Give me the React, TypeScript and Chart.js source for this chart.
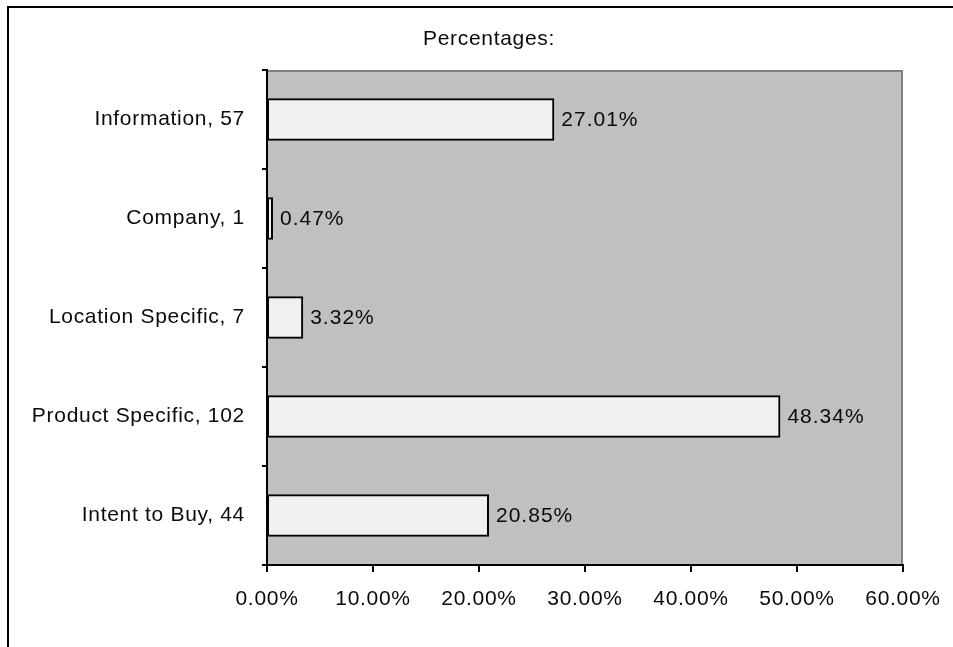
import React, { useEffect, useRef } from "react";
import { Chart, registerables } from "chart.js";

Chart.register(...registerables);

// Search-term categories with their query counts and share of all queries (%)
const categories = ["Information", "Company", "Location Specific", "Product Specific", "Intent to Buy"];
const counts = [57, 1, 7, 102, 44];
const percentages = [27.01, 0.47, 3.32, 48.34, 20.85];

const xTickMin = 0;
const xTickMax = 60;
const xTickStep = 10;

const titleText = "Percentages:";

const FONT_FAMILY = "'Liberation Sans', Arial, sans-serif";
const FONT_SIZE = 21;
const TEXT_SPACING = "0.7px";
const NUMBER_SPACING = "1px";

const fmtPct = (v: number) => v.toFixed(2) + "%";

const spacingPlugin = {
  id: "letterSpacing",
  beforeLayout(chart: any) {
    (chart.ctx as any).letterSpacing = TEXT_SPACING;
  },
  beforeDraw(chart: any) {
    (chart.ctx as any).letterSpacing = TEXT_SPACING;
  },
};

// Gray plot background with darker top/right edges
const plotAreaPlugin = {
  id: "plotArea",
  beforeDraw(chart: any) {
    const { ctx, chartArea } = chart;
    const { left, top, right, bottom } = chartArea;
    ctx.save();
    ctx.fillStyle = "#c0c0c0";
    ctx.fillRect(left, top, right - left, bottom - top);
    ctx.strokeStyle = "#808080";
    ctx.lineWidth = 2;
    ctx.beginPath();
    ctx.moveTo(left, top + 1);
    ctx.lineTo(right - 1, top + 1);
    ctx.lineTo(right - 1, bottom);
    ctx.stroke();
    ctx.restore();
  },
};

// Chart title and value labels at the end of each bar
const labelsPlugin = {
  id: "valueLabels",
  afterDatasetsDraw(chart: any) {
    const { ctx } = chart;
    ctx.save();
    ctx.font = `${FONT_SIZE}px ${FONT_FAMILY}`;
    ctx.fillStyle = "#0a0a0a";
    ctx.textBaseline = "middle";
    ctx.textAlign = "left";
    (ctx as any).letterSpacing = NUMBER_SPACING;
    const meta = chart.getDatasetMeta(0);
    meta.data.forEach((bar: any, i: number) => {
      ctx.fillText(fmtPct(percentages[i]), bar.x + 8, bar.y + 1);
    });
    (ctx as any).letterSpacing = TEXT_SPACING;
    ctx.textAlign = "center";
    ctx.fillText(titleText, 489, 39);
    ctx.restore();
  },
};

export default function App() {
  const canvasRef = useRef<HTMLCanvasElement | null>(null);

  useEffect(() => {
    if (!canvasRef.current) return;
    const chart = new Chart(canvasRef.current, {
      type: "bar",
      data: {
        labels: categories.map((c, i) => `${c}, ${counts[i]}`),
        datasets: [
          {
            data: percentages,
            backgroundColor: "#f0f0f0",
            borderColor: "#000",
            borderWidth: 2,
            borderSkipped: false,
            inflateAmount: 1,
            barPercentage: 0.41,
            categoryPercentage: 1,
          },
        ],
      },
      options: {
        indexAxis: "y",
        animation: false,
        responsive: false,
        devicePixelRatio: 1,
        layout: { padding: { top: 70, right: 50, bottom: 0, left: 0 } },
        plugins: {
          legend: { display: false },
          title: { display: false },
          tooltip: { enabled: false },
        },
        scales: {
          x: {
            type: "linear",
            min: xTickMin,
            max: xTickMax,
            ticks: {
              stepSize: xTickStep,
              color: "#0a0a0a",
              padding: 15,
              font: { family: FONT_FAMILY, size: FONT_SIZE },
              callback: (v: any) => fmtPct(Number(v)),
              maxRotation: 0,
            },
            grid: { drawOnChartArea: false, drawTicks: true, tickLength: 7, color: "#000", lineWidth: 2 },
            border: { display: true, color: "#000", width: 2 },
            afterFit: (scale: any) => {
              scale.height = 82;
              scale.paddingLeft = 0;
              scale.paddingRight = 0;
            },
          },
          y: {
            ticks: {
              color: "#0a0a0a",
              padding: 17,
              font: { family: FONT_FAMILY, size: FONT_SIZE },
            },
            grid: { drawOnChartArea: false, drawTicks: true, tickLength: 5, color: "#000", lineWidth: 2, offset: true },
            border: { display: true, color: "#000", width: 2 },
            afterFit: (scale: any) => {
              scale.width = 267;
            },
          },
        },
      },
      plugins: [spacingPlugin, plotAreaPlugin, labelsPlugin],
    });
    return () => chart.destroy();
  }, []);

  return (
    <div style={{ position: "fixed", left: 0, top: 0, width: 953, height: 647, overflow: "hidden", background: "#fff" }}>
      <div
        style={{
          position: "absolute",
          left: 7,
          top: 6,
          width: 1000,
          height: 700,
          borderLeft: "2px solid #000",
          borderTop: "2px solid #000",
        }}
      />
      <canvas ref={canvasRef} width={953} height={647} style={{ position: "absolute", left: 0, top: 0 }} />
    </div>
  );
}
